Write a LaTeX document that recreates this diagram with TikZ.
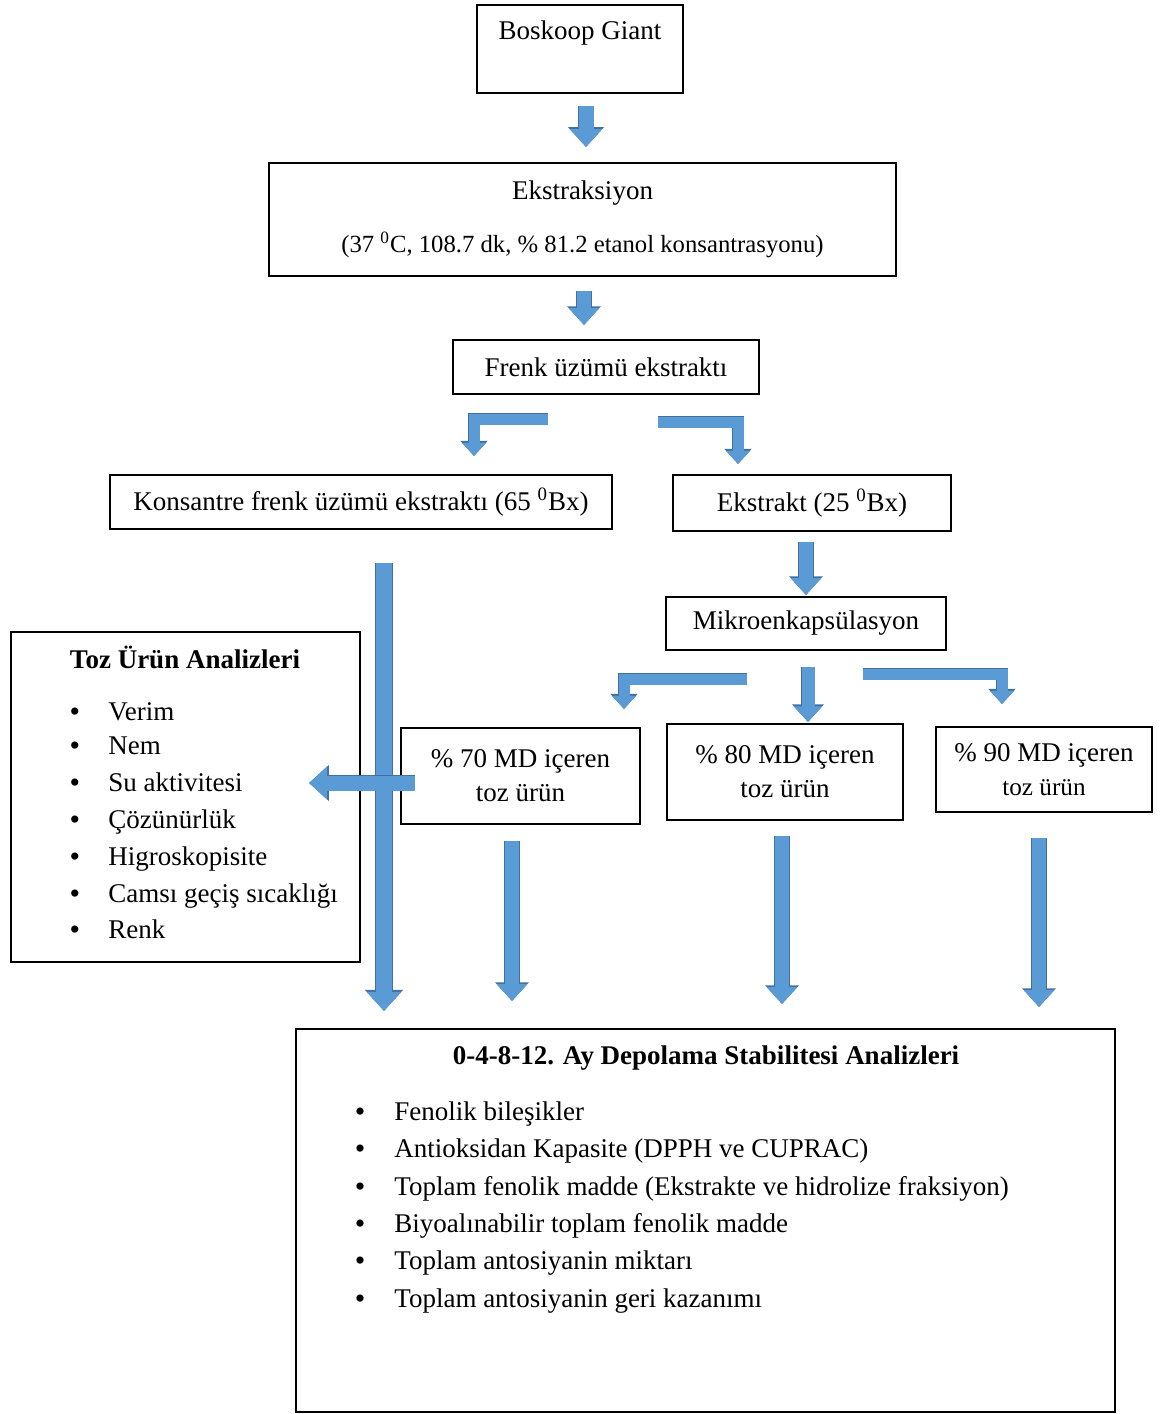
\documentclass[tikz,border=0pt]{standalone}
\usepackage{fontspec}
\setmainfont{Liberation Serif}
\usetikzlibrary{arrows.meta,calc}

\definecolor{arrowblue}{RGB}{91,155,213}
\definecolor{arrowedge}{RGB}{65,113,156}

\tikzset{
  box/.style={draw, line width=1pt, inner sep=2pt, align=center},
  blockarr/.style={draw=arrowblue, line width=#1,
    -{Triangle[width=0pt 2.1, length=0pt 1.2]},
    preaction={draw=arrowedge, line width=#1+0.8pt}},
  listitem/.style={anchor=west, text height=1.6ex, text depth=.4ex, inner sep=0pt},
  mdtext/.style={font=\fontsize{13.5pt}{17pt}\selectfont},
}

\begin{document}
\begin{tikzpicture}[x=0.5pt, y=-0.5pt,
  every node/.style={font=\fontsize{13.5pt}{18.25pt}\selectfont}]

  \useasboundingbox (0,0) rectangle (1165,1414);

  % Process boxes (coordinates in pixels of the page, y down)
  \node[box, minimum width=103pt, minimum height=44pt] (boskoop) at (580,49) {};
  \node (boskooplbl) at (580,33) {Boskoop Giant};

  \node[box, minimum width=313.5pt, minimum height=56.5pt] (ekstr) at (582.5,219.5)
    {Ekstraksiyon\\[8pt]
     {\fontsize{12.35pt}{14pt}\selectfont (37 \textsuperscript{0}C, 108.7 dk, \% 81.2 etanol konsantrasyonu)}};

  \node[box, minimum width=153pt, minimum height=27pt] (frenk) at (606,367) {Frenk üzümü ekstraktı};

  \node[box, minimum width=251pt, minimum height=27pt] (kons) at (361,502)
    {Konsantre frenk üzümü ekstraktı (65 \textsuperscript{0}Bx)};
  \node[box, minimum width=139pt, minimum height=28pt] (ekstrakt) at (812,503)
    {Ekstrakt (25 \textsuperscript{0}Bx)};

  \node[box, minimum width=140pt, minimum height=26.5pt] (mikro) at (806,623.5) {Mikroenkapsülasyon};

  % Powder products
  \node[box, mdtext, minimum width=119.5pt, minimum height=48pt] (md70) at (520.5,776) {\% 70 MD içeren\\toz ürün};
  \node[box, mdtext, minimum width=118pt, minimum height=48pt] (md80) at (785,772) {\% 80 MD içeren\\toz ürün};
  \node[box, mdtext, minimum width=108pt, minimum height=42.5pt] (md90) at (1044,769.5)
    {\% 90 MD içeren\\{\fontsize{12.6pt}{14pt}\selectfont toz ürün}};

  % Analysis boxes
  \node[box, minimum width=174.5pt, minimum height=165pt] (toz) at (185.5,797) {};
  \node[font=\fontsize{13.5pt}{16pt}\selectfont\bfseries] (toztitle) at (185,657) {Toz Ürün Analizleri};
  \foreach \y/\txt [count=\i] in {715/Verim, 749/Nem, 786/Su aktivitesi, 823/Çözünürlük,
      860/Higroskopisite, 897/Camsı geçiş sıcaklığı, 933/Renk} {
    \node[font=\fontsize{15pt}{16pt}\selectfont] (tozbul\i) at (75,\y) {\textbullet};
    \node[listitem] (tozitem\i) at (108,\y) {\txt};
  }

  \node[box, minimum width=409.5pt, minimum height=191.5pt] (depo) at (705.5,1220.5) {};
  \node[font=\fontsize{13.5pt}{16pt}\selectfont\bfseries] (depotitle) at (706,1058)
    {0-4-8-12. Ay Depolama Stabilitesi Analizleri};
  \foreach \y/\txt [count=\i] in {1115/Fenolik bileşikler,
      1152/Antioksidan Kapasite (DPPH ve CUPRAC),
      1190/Toplam fenolik madde (Ekstrakte ve hidrolize fraksiyon),
      1227/Biyoalınabilir toplam fenolik madde,
      1264/Toplam antosiyanin miktarı,
      1302/Toplam antosiyanin geri kazanımı} {
    \node[font=\fontsize{15pt}{16pt}\selectfont] (depobul\i) at (360,\y) {\textbullet};
    \node[listitem] (depoitem\i) at (394,\y) {\txt};
  }

  % Block arrows
  \draw[blockarr=7.5pt] ($(boskoop.south)+(6,12)$) -- ($(ekstr.north)+(3.5,-15)$);
  \draw[blockarr=7pt] ($(ekstr.south)+(1.5,14)$) -- ($(frenk.north)+(-22,-14)$);
  \draw[blockarr=5.5pt] ($(frenk.south)+(-58,24)$) -| ($(kons.north)+(113,-18)$);
  \draw[blockarr=5.5pt] ($(frenk.south)+(52,27)$) -| ($(ekstrakt.north)+(-74,-10)$);
  \draw[blockarr=7pt] ($(ekstrakt.south)+(-6,10)$) -- ($(mikro.north)+(0,-1)$);

  \draw[blockarr=5.5pt] ($(mikro.south)+(-59,28)$) -| ($(md70.north)+(103.5,-18)$);
  \draw[blockarr=6.5pt] ($(mikro.south)+(2,16)$) -- ($(md80.north)+(23,-1)$);
  \draw[blockarr=5.5pt] ($(mikro.south)+(57,23)$) -| ($(md90.north)+(-42,-22)$);

  \draw[blockarr=8pt] ($(kons.south)+(23,33)$) -- ($(depo.north)+(-321.5,-17)$);
  \draw[blockarr=7.5pt] ($(md70.west)+(15,7)$) -- ($(toz.east)+(-52,-14)$);

  \draw[blockarr=7pt] ($(md70.south)+(-8.5,16)$) -- ($(depo.north)+(-193.5,-27)$);
  \draw[blockarr=7pt] ($(md80.south)+(-3,15)$) -- ($(depo.north)+(76.5,-24)$);
  \draw[blockarr=7pt] ($(md90.south)+(-5,25)$) -- ($(depo.north)+(333.5,-21)$);

\end{tikzpicture}
\end{document}
